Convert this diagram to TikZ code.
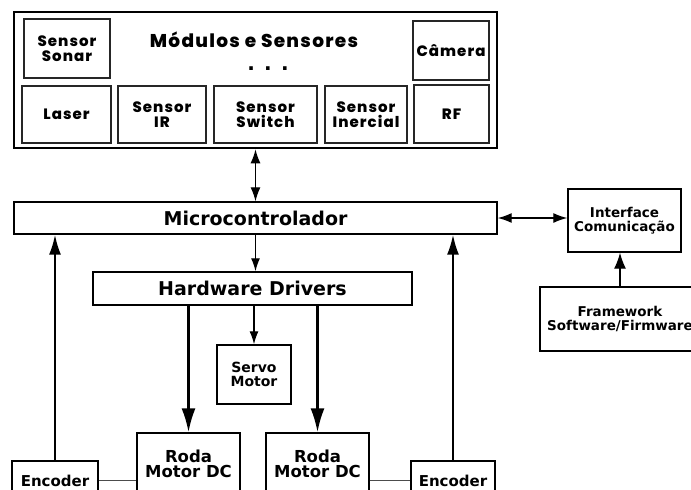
\documentclass[tikz,border=0pt]{standalone}
\usepackage{fontspec}
\setmainfont{DejaVu Sans}
\newfontfamily\geofont{Poppins}[LetterSpace=7, BoldFont={* ExtraBold}]
\usetikzlibrary{arrows.meta}

\newcommand{\fsz}[1]{\fontsize{#1}{#1}\selectfont}

\tikzset{
  box/.style={draw=black, line width=1.4pt, fill=white, align=center,
    inner sep=0pt, font=\bfseries\fsz{14}},
  modbox/.style={draw=black!85, line width=1.8pt, fill=white, align=center,
    inner sep=0pt, font=\geofont\bfseries\fsz{15}},
  outerbox/.style={draw=black, line width=2.6pt, fill=white, inner sep=0pt},
  link/.style={line width=1.3pt, -{Latex[length=13pt,width=9pt]}},
  biglink/.style={line width=2.4pt, -{Latex[length=24pt,width=14pt]}},
  feedlink/.style={line width=2pt, -{Latex[length=20pt,width=12pt]}},
  twoway/.style={line width=1.3pt, {Latex[length=14pt,width=10pt]}-{Latex[length=14pt,width=10pt]}},
  wire/.style={line width=1pt, draw=black!70},
}

\begin{document}
\begin{tikzpicture}[x=1pt, y=-1pt]
\useasboundingbox (0,0) rectangle (691,490);
\clip (0,0) rectangle (691,490);
\fill[white] (0,0) rectangle (691,490);

% sensor and module block
\node[outerbox, minimum width=483, minimum height=136] (mods) at (255.5,80) {};
\node[font=\geofont\bfseries\fsz{18.5}] (title) at (254,40) {Módulos e Sensores};
\node[font=\bfseries\fsz{20}] (dots) at (268,69) {. . .};
\node[modbox, minimum width=86, minimum height=59] (sonar) at (67,48.5) {Sensor\\Sonar};
\node[modbox, minimum width=76, minimum height=59] (cam) at (451,50.5) {Câmera};
\node[modbox, minimum width=89, minimum height=57] (laser) at (66.5,114.5) {Laser};
\node[modbox, minimum width=88, minimum height=57] (ir) at (162,114.5) {Sensor\\IR};
\node[modbox, minimum width=103, minimum height=57] (switch) at (265.5,114.5) {Sensor\\Switch};
\node[modbox, minimum width=82, minimum height=57] (inercial) at (366,114.5) {Sensor\\Inercial};
\node[modbox, minimum width=75, minimum height=58] (rf) at (451.5,114) {RF};

% control chain
\node[box, minimum width=483, minimum height=32, font=\bfseries\fsz{19}] (micro) at (255.5,218) {Microcontrolador};
\node[box, minimum width=319, minimum height=33, font=\bfseries\fsz{19}] (hd) at (252.5,288.5) {Hardware Drivers};
\node[box, minimum width=74, minimum height=59] (servo) at (254,374.5) {Servo\\Motor};
\node[box, minimum width=103, minimum height=77] (rodaL) at (188.5,471.5) {};
\node[font=\bfseries\fsz{16.5}, align=center] (rodaLt) at (188.5,464) {Roda\\[-1pt]Motor DC};
\node[box, minimum width=103, minimum height=77] (rodaR) at (317.5,471.5) {};
\node[font=\bfseries\fsz{16.5}, align=center] (rodaRt) at (317.5,464) {Roda\\[-1pt]Motor DC};
\node[box, minimum width=86, minimum height=39, font=\bfseries\fsz{15}] (encL) at (55,480.5) {Encoder};
\node[box, minimum width=84, minimum height=39, font=\bfseries\fsz{15}] (encR) at (453,480.5) {Encoder};

% communication side
\node[box, minimum width=113, minimum height=63, font=\bfseries\fsz{13.5}] (iface) at (624.5,220.5) {Interface\\Comunicação};
\node[box, minimum width=160, minimum height=64, font=\bfseries\fsz{13.5}] (fw) at (620,319) {Framework\\Software/Firmware};

% connectors
\draw[twoway] (mods.south) -- (micro.north);
\draw[link] (micro.south) -- (micro.south |- hd.north);
\draw[link] (hd.south -| servo.north) -- (servo.north);
\draw[biglink] (hd.south -| rodaL.north) -- (rodaL.north);
\draw[biglink] (hd.south -| rodaR.north) -- (rodaR.north);
\draw[feedlink] (encL.north) -- (encL.north |- micro.south);
\draw[feedlink] (encR.north) -- (encR.north |- micro.south);
\draw[wire] (encL.east) -- (encL.east -| rodaL.west);
\draw[wire] (rodaR.east |- encR.west) -- (encR.west);
\draw[twoway] (micro.east) -- (micro.east -| iface.west);
\draw[link, -{Latex[length=16pt,width=12pt]}] (fw.north) -- (fw.north |- iface.south);
\end{tikzpicture}
\end{document}
